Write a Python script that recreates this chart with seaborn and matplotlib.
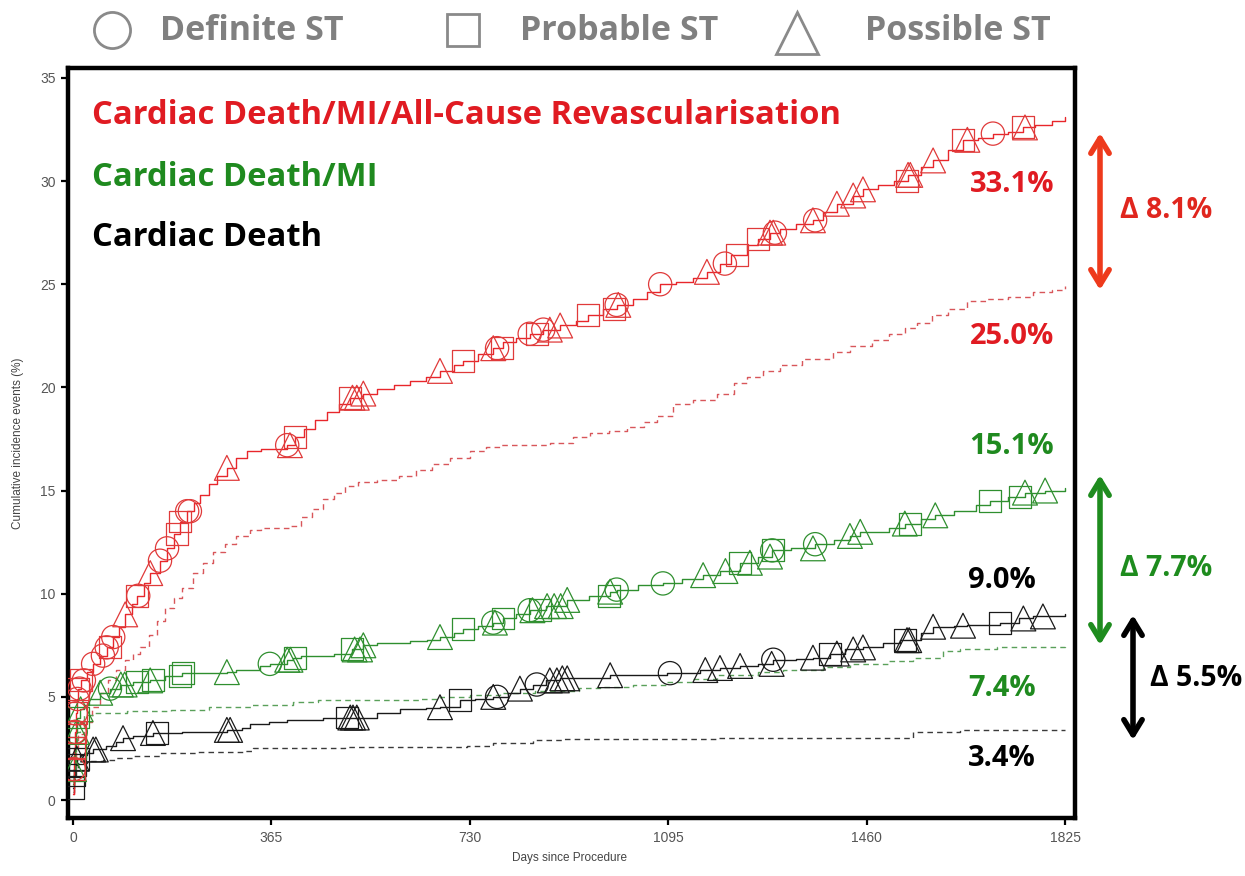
import numpy as np
import pandas as pd
import matplotlib
matplotlib.use("Agg")
import matplotlib.pyplot as plt
import seaborn as sns

# ---------------- data ----------------
# Cardiac death / MI / all-cause revascularisation (solid red)
red_days = [0, 1, 2, 3, 5, 7, 10, 14, 25, 37, 50, 62, 74, 85, 96, 108, 118, 130, 142, 160, 173, 185, 197, 210,
            222, 234, 250, 265, 283, 300, 320, 345, 394, 408, 425, 445, 467, 490, 510, 534, 560, 590, 620, 650,
            675, 700, 717, 745, 773, 790, 815, 840, 865, 896, 925, 947, 975, 1000, 1030, 1055, 1080, 1110, 1140,
            1166, 1190, 1210, 1240, 1260, 1282, 1300, 1330, 1361, 1380, 1405, 1435, 1453, 1480, 1510, 1536, 1560,
            1582, 1610, 1637, 1665, 1692, 1720, 1748, 1770, 1800, 1825]
red_vals = [0.3, 1.5, 2.5, 3.3, 4.2, 4.9, 5.4, 5.8, 6.2, 6.6, 7.0, 7.4, 7.9, 8.4, 9.0, 9.5, 9.9, 10.5, 11.0, 11.6,
            12.2, 12.9, 13.5, 14.0, 14.4, 14.8, 15.3, 15.7, 16.1, 16.6, 16.9, 17.0, 17.2, 17.6, 18.0, 18.4, 18.8,
            19.2, 19.5, 19.7, 19.9, 20.1, 20.3, 20.5, 20.8, 21.1, 21.3, 21.6, 21.9, 22.2, 22.4, 22.6, 22.8, 23.0,
            23.2, 23.5, 23.8, 24.0, 24.3, 24.6, 25.0, 25.1, 25.3, 25.6, 26.0, 26.4, 26.9, 27.2, 27.5, 27.7, 27.9,
            28.1, 28.5, 28.9, 29.3, 29.6, 29.8, 30.0, 30.3, 30.7, 31.0, 31.5, 32.0, 32.1, 32.3, 32.4, 32.6, 32.7,
            32.9, 33.1]
# comparator (dashed red)
red_cmp_days = [0, 2, 5, 10, 20, 35, 50, 65, 80, 95, 110, 123, 140, 155, 170, 185, 200, 220, 240, 258, 280, 300,
                325, 345, 400, 420, 440, 460, 480, 500, 525, 560, 600, 630, 660, 694, 730, 760, 785, 877, 920, 951,
                985, 1019, 1050, 1075, 1104, 1140, 1185, 1215, 1240, 1270, 1300, 1340, 1398, 1430, 1470, 1500,
                1530, 1553, 1580, 1610, 1645, 1680, 1720, 1766, 1800, 1825]
red_cmp_vals = [0.3, 1.5, 2.5, 3.2, 3.8, 4.5, 5.2, 5.8, 6.3, 6.8, 7.1, 7.4, 8.0, 8.7, 9.3, 9.8, 10.3, 11.0, 11.5,
                12.0, 12.4, 12.8, 13.1, 13.2, 13.3, 13.7, 14.1, 14.6, 14.9, 15.2, 15.4, 15.5, 15.7, 16.0, 16.3,
                16.6, 16.9, 17.1, 17.2, 17.3, 17.6, 17.8, 17.9, 18.1, 18.3, 18.6, 19.2, 19.4, 19.7, 20.2, 20.5,
                20.8, 21.1, 21.4, 21.7, 22.0, 22.3, 22.6, 22.9, 23.1, 23.5, 23.8, 24.2, 24.3, 24.4, 24.6, 24.7, 24.9]

# Cardiac death / MI (solid green)
green_days = [0, 1, 3, 5, 8, 12, 20, 30, 50, 68, 86, 110, 142, 170, 200, 283, 300, 344, 362, 394, 405, 420, 480,
              513, 534, 560, 620, 651, 675, 700, 717, 745, 773, 791, 815, 840, 870, 909, 950, 988, 1000, 1040,
              1085, 1120, 1159, 1190, 1227, 1260, 1286, 1320, 1365, 1400, 1429, 1448, 1500, 1530, 1560, 1586,
              1620, 1660, 1687, 1720, 1751, 1788, 1825]
green_vals = [0.8, 1.5, 2.5, 3.3, 4.0, 4.4, 4.6, 4.9, 5.2, 5.4, 5.6, 5.7, 5.8, 6.0, 6.15, 6.2, 6.3, 6.5, 6.6, 6.8,
              6.9, 7.0, 7.1, 7.3, 7.5, 7.6, 7.7, 7.75, 7.9, 8.1, 8.3, 8.45, 8.6, 8.8, 9.0, 9.2, 9.4, 9.7, 9.9,
              10.1, 10.2, 10.4, 10.5, 10.7, 10.9, 11.1, 11.5, 11.8, 12.1, 12.2, 12.4, 12.6, 12.8, 13.0, 13.2,
              13.4, 13.6, 13.8, 14.0, 14.3, 14.5, 14.7, 14.9, 15.0, 15.1]
green_cmp_days = [0, 2, 5, 8, 12, 20, 40, 100, 180, 250, 330, 405, 450, 640, 675, 730, 785, 850, 930, 969, 1030,
                  1093, 1140, 1185, 1260, 1306, 1380, 1429, 1500, 1545, 1600, 1632, 1700, 1825]
green_cmp_vals = [0.6, 1.5, 2.5, 3.3, 3.9, 4.1, 4.2, 4.3, 4.35, 4.5, 4.6, 4.75, 4.85, 4.9, 5.0, 5.1, 5.2, 5.3,
                  5.45, 5.5, 5.6, 5.7, 5.85, 6.05, 6.2, 6.3, 6.45, 6.6, 6.75, 6.9, 7.2, 7.3, 7.4, 7.45]

# Cardiac death (solid black)
black_days = [0, 2, 4, 7, 12, 25, 37, 60, 80, 92, 110, 147, 200, 283, 310, 326, 360, 394, 460, 520, 560, 601,
              650, 675, 712, 740, 773, 800, 822, 846, 870, 896, 988, 1093, 1153, 1190, 1227, 1260, 1288, 1330,
              1361, 1393, 1420, 1453, 1490, 1521, 1560, 1582, 1620, 1645, 1705, 1740, 1766, 1825]
black_vals = [0.6, 1.2, 1.7, 2.0, 2.2, 2.3, 2.45, 2.6, 2.8, 3.0, 3.1, 3.25, 3.3, 3.4, 3.5, 3.7, 3.8, 3.9, 4.0,
              4.0, 4.2, 4.4, 4.45, 4.5, 4.85, 4.9, 5.0, 5.2, 5.4, 5.6, 5.8, 5.9, 6.05, 6.15, 6.3, 6.4, 6.5, 6.6,
              6.8, 6.85, 6.9, 7.1, 7.3, 7.4, 7.6, 7.75, 8.1, 8.4, 8.45, 8.5, 8.6, 8.8, 8.9, 9.0]
black_cmp_days = [0, 2, 5, 10, 25, 55, 80, 110, 160, 230, 313, 331, 500, 725, 773, 846, 900, 1185, 1535, 1545,
                  1632, 1825]
black_cmp_vals = [0.4, 1.0, 1.5, 1.8, 1.9, 1.95, 2.05, 2.15, 2.3, 2.35, 2.4, 2.5, 2.55, 2.6, 2.75, 2.9, 2.95,
                  3.0, 3.0, 3.3, 3.4, 3.4]

# stent-thrombosis events on the solid curves: day and type (o definite, s probable, ^ possible)
red_st_days = [1, 1.5, 2, 3, 4, 5, 6, 8, 10, 12, 15, 20,
               37, 55, 62, 68, 74, 96, 118, 120, 142, 160, 173, 191, 197, 210, 215,
               283, 394, 399, 408, 510, 514, 522, 534, 675, 717, 773, 780, 789,
               840, 853, 865, 877, 896, 947, 995, 1000, 1003, 1080,
               1166, 1199, 1221, 1260, 1282, 1288, 1291, 1361, 1365, 1405, 1435, 1453,
               1534, 1536, 1540, 1582, 1637, 1645, 1692, 1748, 1751]
red_st_types = ["s", "o", "s", "o", "s", "o", "s", "o", "s", "o", "s", "o",
                "o", "o", "o", "s", "o", "^", "s", "o", "^", "o", "o", "s", "s", "o", "o",
                "^", "o", "^", "s", "s", "^", "^", "^", "^", "s", "^", "o", "s",
                "o", "s", "o", "^", "^", "s", "s", "o", "^", "o",
                "^", "o", "s", "s", "^", "^", "o", "^", "o", "^", "^", "^",
                "s", "^", "^", "^", "s", "^", "o", "s", "^"]
green_st_days = [1, 2, 3, 5, 7, 10, 14,
                 50, 68, 88, 95, 118, 142, 147, 197, 202,
                 283, 362, 394, 400, 408, 513, 518, 528, 534, 675, 717, 773, 776, 791,
                 840, 845, 859, 872, 885, 897, 909, 985, 988, 1000, 1085,
                 1159, 1200, 1227, 1245, 1282, 1286, 1288, 1361, 1365, 1429, 1448, 1530, 1540, 1586,
                 1687, 1742, 1751, 1788]
green_st_types = ["s", "^", "s", "o", "^", "s", "^",
                  "^", "o", "^", "^", "s", "^", "s", "s", "s",
                  "^", "o", "^", "^", "s", "s", "^", "^", "^", "^", "s", "o", "^", "s",
                  "o", "^", "s", "^", "^", "^", "^", "s", "^", "o", "o",
                  "^", "^", "s", "^", "^", "o", "s", "^", "o", "^", "^", "^", "s", "^",
                  "s", "s", "^", "^"]
black_st_days = [0.5, 2, 4, 7, 10, 37, 42, 92, 147, 155, 283, 289, 504, 510, 515, 522,
                 675, 712, 773, 780, 822, 853, 877, 890, 900, 909, 988,
                 1098, 1163, 1190, 1227, 1285, 1288, 1361, 1393, 1405, 1435, 1453,
                 1530, 1534, 1538, 1582, 1637, 1705, 1748, 1784]
black_st_types = ["s", "s", "s", "^", "s", "^", "^", "^", "^", "s", "^", "^", "s", "^", "^", "^",
                  "^", "s", "^", "o", "^", "o", "^", "^", "^", "^", "^",
                  "o", "^", "^", "^", "^", "o", "^", "s", "^", "^", "^",
                  "s", "^", "^", "^", "^", "s", "^", "^"]

xticks = [0, 365, 730, 1095, 1460, 1825]
yticks = [0, 5, 10, 15, 20, 25, 30, 35]

series_labels = ["Cardiac Death/MI/All-Cause Revascularisation", "Cardiac Death/MI", "Cardiac Death"]
end_labels = ["33.1%", "25.0%", "15.1%", "7.4%", "9.0%", "3.4%"]
delta_labels = ["\u0394 8.1%", "\u0394 7.7%", "\u0394 5.5%"]
legend_labels = ["Definite ST", "Probable ST", "Possible ST"]

# ---------------- style ----------------
RED = "#e8262b"
RED_D = "#d8565a"
GREEN = "#2f8f2f"
GREEN_D = "#5aa05a"
BLACK = "#1a1a1a"
BLACK_D = "#3a3a3a"
LAB_RED = "#e01b22"
LAB_GREEN = "#1f8a1f"

sns.set_theme(style="ticks")
plt.rcParams['font.family'] = ['Liberation Sans Narrow', 'Liberation Sans', 'DejaVu Sans']

W, H = 1245, 876
fig = plt.figure(figsize=(W / 100, H / 100), dpi=100)
ax = fig.add_axes([68 / W, (H - 818) / H, 1007 / W, 750 / H])


def step_value(days, vals, d):
    i = np.searchsorted(np.asarray(days, float), d, side="right") - 1
    return np.asarray(vals)[np.clip(i, 0, len(vals) - 1)]


def draw_curve(days, vals, color, ls, lw):
    df = pd.DataFrame({"day": days, "val": vals})
    sns.lineplot(data=df, x="day", y="val", ax=ax, color=color, linestyle=ls, linewidth=lw,
                 drawstyle="steps-post", estimator=None, sort=False, zorder=2)


def draw_markers(days, vals, st_days, st_types, color):
    df = pd.DataFrame({"day": np.asarray(st_days, float), "type": st_types})
    df["val"] = step_value(days, vals, df["day"].values)
    for m, size in (("o", 280), ("s", 250), ("^", 320)):
        sub = df[df["type"] == m]
        if len(sub) == 0:
            continue
        sns.scatterplot(data=sub, x="day", y="val", ax=ax, marker=m, s=size, facecolor="none",
                        edgecolor=color, linewidth=0.9, zorder=3, legend=False)


draw_curve(red_cmp_days, red_cmp_vals, RED_D, (0, (4, 3)), 1.0)
draw_curve(green_cmp_days, green_cmp_vals, GREEN_D, (0, (4, 3)), 1.0)
draw_curve(black_cmp_days, black_cmp_vals, BLACK_D, (0, (4, 3)), 1.0)
draw_curve(black_days, black_vals, BLACK, "-", 1.0)
draw_curve(green_days, green_vals, GREEN, "-", 1.0)
draw_curve(red_days, red_vals, RED, "-", 1.0)
draw_markers(black_days, black_vals, black_st_days, black_st_types, BLACK)
draw_markers(green_days, green_vals, green_st_days, green_st_types, GREEN)
draw_markers(red_days, red_vals, red_st_days, red_st_types, "#e03a3a")

ax.set_xlim(-9.2, 1843)
ax.set_ylim(-0.87, 35.48)
ax.set_xticks(xticks)
ax.set_yticks(yticks)
ax.set_xticklabels([str(t) for t in xticks])
ax.set_yticklabels([str(t) for t in yticks])
for s in ax.spines.values():
    s.set_linewidth(3.2)
    s.set_color("black")
ax.tick_params(length=5, width=1.6, color="black", labelsize=10, labelcolor="#555555", pad=4)
ax.set_xlabel("Days since Procedure", fontsize=8.5, color="#444444")
ax.set_ylabel("Cumulative incidence events (%)", fontsize=8.5, color="#444444")
ax.xaxis.set_label_coords((570 - 68) / 1007, -0.045)
ax.yaxis.set_label_coords(-0.044, 0.5)

# ---------------- overlay in figure pixels for annotations ----------------
ov = fig.add_axes([0, 0, 1, 1], zorder=5)
ov.set_xlim(0, W)
ov.set_ylim(H, 0)
ov.axis("off")
ov.patch.set_alpha(0)

FONT = ["Open Sans", "DejaVu Sans"]

# legend row
LEG_GRAY = "#8a8a8a"
ov.plot([112], [30], marker="o", ms=26, mfc="none", mec=LEG_GRAY, mew=2.0, ls="none")
ov.plot([463], [30], marker="s", ms=23, mfc="none", mec=LEG_GRAY, mew=2.0, ls="none")
ov.plot([797], [33], marker="^", ms=30, mfc="none", mec=LEG_GRAY, mew=2.0, ls="none")
for x, lab in zip([160, 520, 865], legend_labels):
    ov.text(x, 31, lab, fontsize=24.5, fontweight="bold", color="#808080", family=FONT, va="center", ha="left")

# series titles
for (y, col), lab in zip([(115, LAB_RED), (178, LAB_GREEN), (237, "black")], series_labels):
    ov.text(92, y, lab, fontsize=23.6, fontweight="bold", color=col, family=FONT, va="center", ha="left")

# end-of-curve percentages
for (x, y, col), lab in zip([(1012, 185, LAB_RED), (1012, 336, LAB_RED), (1012, 447, LAB_GREEN),
                             (1002, 688, LAB_GREEN), (1002, 580, "black"), (1002, 758, "black")], end_labels):
    ov.text(x, y, lab, fontsize=21, fontweight="bold", color=col, family=FONT, va="center", ha="center")

# difference arrows
ARROW_RED = "#ee3a1c"
for (x, y0, y1, col) in [(1100, 133, 290, ARROW_RED), (1100, 475, 645, "#1e8c1e"), (1133, 615, 740, "black")]:
    ov.annotate("", xy=(x, y0), xytext=(x, y1),
                arrowprops=dict(arrowstyle="<->, head_length=0.9, head_width=0.55", lw=4, color=col,
                                shrinkA=0, shrinkB=0))
for (x, y, col), lab in zip([(1120, 210, "#e0261e"), (1120, 568, "#1e8c1e"), (1150, 678, "black")], delta_labels):
    ov.text(x, y, lab, fontsize=20.5, fontweight="bold", color=col, family=FONT, va="center", ha="left")

fig.savefig("out.png", dpi=100, facecolor="white")
